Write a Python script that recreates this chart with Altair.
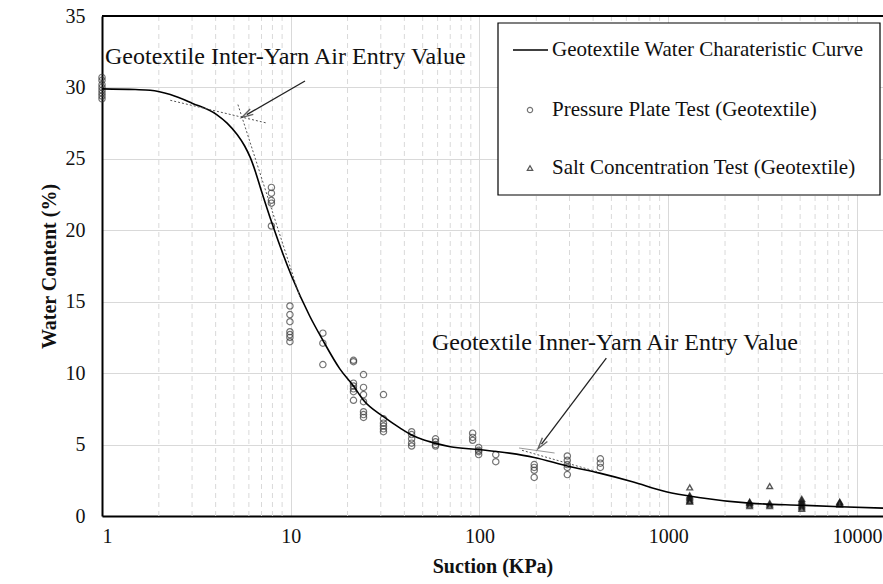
import math
import altair as alt
import pandas as pd

# ---------------- data ----------------
curve_suction = [1, 1.5, 1.8, 2.3, 3.0, 4.05, 4.6, 5.2, 5.7, 6.1, 6.5, 6.9, 8.0, 10.1, 12.6,
                 14.8, 18.2, 21.5, 24.3, 31, 38, 44, 50, 58, 70, 100, 144, 195, 292, 433, 646,
                 975, 1450, 2690, 5130, 8130, 14000]
curve_wc = [29.9, 29.85, 29.8, 29.5, 28.9, 28.1, 27.5, 26.7, 25.9, 25.1, 24.1, 23.0, 20.4, 16.8,
            14.0, 12.3, 10.3, 9.1, 8.1, 6.95, 6.15, 5.65, 5.35, 5.1, 4.85, 4.65, 4.4, 4.1, 3.5,
            3.0, 2.4, 1.7, 1.3, 0.9, 0.75, 0.65, 0.55]

pp_suction = [1, 7.9, 9.9, 14.8, 21.5, 24.3, 31, 43.7, 58.5, 92, 99, 122, 195, 292, 437]
pp_wc = [
    [30.7, 30.5, 30.2, 30.0, 29.8, 29.6, 29.4, 29.2],
    [23.0, 22.6, 22.1, 21.9, 20.3],
    [14.7, 14.1, 13.6, 12.9, 12.7, 12.5, 12.2],
    [12.8, 12.1, 10.6],
    [10.9, 10.8, 9.3, 9.1, 8.9, 8.7, 8.1],
    [9.9, 9.0, 8.5, 8.0, 7.3, 7.1, 6.9],
    [8.5, 6.8, 6.5, 6.3, 6.1, 5.9],
    [5.9, 5.7, 5.4, 5.1, 4.9],
    [5.4, 5.2, 5.0, 4.9],
    [5.8, 5.5, 5.3],
    [4.8, 4.6, 4.5, 4.3],
    [4.3, 3.8],
    [3.6, 3.4, 3.2, 2.7],
    [4.2, 3.9, 3.6, 3.4, 2.9],
    [4.0, 3.7, 3.4],
]

salt_suction = [1300, 2700, 3450, 5100, 8100]
salt_wc = [
    [2.0, 1.45, 1.35, 1.25, 1.15, 1.05, 1.0],
    [1.0, 0.95, 0.9, 0.8, 0.7],
    [2.1, 0.9, 0.8, 0.7],
    [1.2, 1.1, 1.0, 0.9, 0.8, 0.7, 0.6, 0.5],
    [1.0, 0.95, 0.9, 0.8],
]

# tangent construction lines (two end points each)
tangent_dotted_seg = ["up_flat", "up_flat", "up_steep", "up_steep", "low_steep", "low_steep"]
tangent_dotted_s = [2.3, 7.5, 5.25, 11.2, 168, 420]
tangent_dotted_w = [29.1, 27.5, 28.8, 15.3, 4.6, 3.1]
tangent_gray_s = [162, 250]
tangent_gray_w = [4.76, 4.41]

# annotation arrows: start -> end
arrow_s1 = [11.9, 470]
arrow_w1 = [30.45, 11.05]
arrow_s2 = [5.85, 213]
arrow_w2 = [28.1, 5.03]

annot_text = ["Geotextile Inter-Yarn Air Entry Value", "Geotextile Inner-Yarn Air Entry Value"]
annot_s = [1.037, 56.0]
annot_w = [32.13, 12.11]

x_ticks = [1, 10, 100, 1000, 10000]
y_ticks = [0, 5, 10, 15, 20, 25, 30, 35]
minor_grid = [m * d for d in [1, 10, 100, 1000] for m in range(2, 10)]

legend_labels = ["Geotextile Water Charateristic Curve",
                 "Pressure Plate Test (Geotextile)",
                 "Salt Concentration Test (Geotextile)"]

# ---------------- layout ----------------
W, H = 781, 500
XMAX = 13740
PX_PER_DEC = W / math.log10(XMAX)
PX_PER_UNIT = H / 35.0
FONT = "Liberation Serif"

xs = alt.Scale(type="log", domain=[1, XMAX], nice=False)
ys = alt.Scale(domain=[0, 35], nice=False, zero=False)

axis_style = dict(labelFont=FONT, labelFontSize=20, labelColor="#111111",
                  titleFont=FONT, titleFontSize=20, titleFontWeight="bold", titleColor="#111111",
                  grid=True, gridColor="#d9d9d9", gridWidth=1, ticks=False, tickSize=0,
                  domainColor="black", domainWidth=2)
x_axis = alt.Axis(values=x_ticks, format="d", title="Suction (KPa)",
                  labelPadding=10, titlePadding=10, **axis_style)
y_axis = alt.Axis(values=y_ticks, title="Water Content (%)",
                  labelPadding=17, titlePadding=6, **axis_style)


def X(field="s"):
    return alt.X(f"{field}:Q", scale=xs, axis=x_axis, title="Suction (KPa)")


def Y(field="w"):
    return alt.Y(f"{field}:Q", scale=ys, axis=y_axis, title="Water Content (%)")


curve_df = pd.DataFrame({"s": curve_suction, "w": curve_wc})
pp_df = pd.DataFrame([{"s": s, "w": w} for s, ws in zip(pp_suction, pp_wc) for w in ws])
salt_df = pd.DataFrame([{"s": s, "w": w} for s, ws in zip(salt_suction, salt_wc) for w in ws])
dot_df = pd.DataFrame({"seg": tangent_dotted_seg, "s": tangent_dotted_s, "w": tangent_dotted_w})
gray_df = pd.DataFrame({"s": tangent_gray_s, "w": tangent_gray_w})


def head_angle(s1, w1, s2, w2):
    dx = (math.log10(s2) - math.log10(s1)) * PX_PER_DEC
    dy = -(w2 - w1) * PX_PER_UNIT
    return math.degrees(math.atan2(dx, -dy)) % 360


arrow_df = pd.DataFrame({"s": arrow_s1, "w": arrow_w1, "s2": arrow_s2, "w2": arrow_w2})
arrow_df["ang"] = [head_angle(a, b, c, d) for a, b, c, d in zip(arrow_s1, arrow_w1, arrow_s2, arrow_w2)]
annot_df = pd.DataFrame({"t": annot_text, "s": annot_s, "w": annot_w})
minor_df = pd.DataFrame({"s": minor_grid})
one = pd.DataFrame({"a": [0]})

minor = alt.Chart(minor_df).mark_rule(color="#d9d9d9", strokeWidth=1, strokeDash=[5, 4]).encode(x=X())

pp = alt.Chart(pp_df).mark_point(shape="circle", filled=False, size=40, color="#3a3a3a",
                                 strokeWidth=1.2).encode(x=X(), y=Y())

salt = alt.Chart(salt_df).mark_point(shape="triangle-up", filled=False, size=32, color="#111111",
                                     strokeWidth=1.4).encode(x=X(), y=Y())

curve = alt.Chart(curve_df).mark_line(color="black", strokeWidth=1.6, interpolate="monotone",
                                      clip=True).encode(x=X(), y=Y())

dotted = alt.Chart(dot_df).mark_line(color="#555555", strokeWidth=1, strokeDash=[2, 2]).encode(
    x=X(), y=Y(), detail="seg:N")
gray = alt.Chart(gray_df).mark_line(color="#999999", strokeWidth=1).encode(x=X(), y=Y())

arrows = alt.Chart(arrow_df).mark_rule(color="#222222", strokeWidth=1.3).encode(
    x=X(), y=Y(), x2="s2:Q", y2="w2:Q")
heads = alt.Chart(arrow_df).mark_point(shape="M-0.55,1L0,-1L0.55,1", filled=False, size=130,
                                       color="#222222", strokeWidth=1.4).encode(
    x=X("s2"), y=Y("w2"), angle=alt.Angle("ang:Q", scale=None))

annots = alt.Chart(annot_df).mark_text(font=FONT, fontSize=24, align="left", baseline="middle",
                                       color="#111111").encode(x=X(), y=Y(), text="t:N")

top_border = alt.Chart(one).mark_rule(color="black", strokeWidth=2).encode(
    x=alt.value(0), x2=alt.value(W), y=alt.value(0))

# legend box
LX0, LX1, LY0, LY1 = 396, 778, 7, 179
leg_box = alt.Chart(one).mark_rect(fill="white", stroke="black", strokeWidth=1.2).encode(
    x=alt.value(LX0), x2=alt.value(LX1), y=alt.value(LY0), y2=alt.value(LY1))
leg_line = alt.Chart(one).mark_rule(color="black", strokeWidth=1.3).encode(
    x=alt.value(411), x2=alt.value(446), y=alt.value(34))
leg_circ = alt.Chart(one).mark_point(shape="circle", filled=False, size=28, color="#3a3a3a",
                                     strokeWidth=1.2).encode(x=alt.value(428), y=alt.value(94))
leg_tri = alt.Chart(one).mark_point(shape="triangle-up", filled=False, size=28, color="#111111",
                                    strokeWidth=1.3).encode(x=alt.value(428), y=alt.value(152))
leg_texts = [
    alt.Chart(pd.DataFrame({"t": [lab]})).mark_text(font=FONT, fontSize=21, align="left",
                                                    baseline="middle", color="#111111").encode(
        x=alt.value(450), y=alt.value(yy), text="t:N")
    for lab, yy in zip(legend_labels, [34, 94, 152])
]

chart = alt.layer(
    minor, pp, salt, curve, dotted, gray, arrows, heads, annots, top_border,
    leg_box, leg_line, leg_circ, leg_tri, *leg_texts
).properties(
    width=W, height=H,
    background="white",
    autosize=alt.AutoSizeParams(type="none"),
    padding={"left": 102, "top": 16, "right": 0, "bottom": 68},
).configure_view(stroke=None)

chart.save("out.html", embed_options={"renderer": "svg", "actions": False})
